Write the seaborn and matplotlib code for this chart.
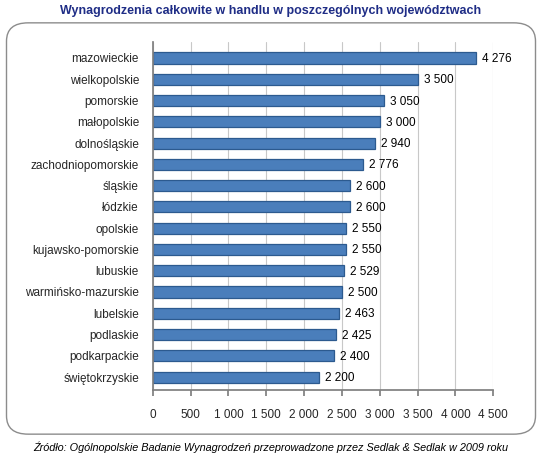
import matplotlib

matplotlib.use("Agg")

import matplotlib.pyplot as plt
import seaborn as sns
import pandas as pd
from matplotlib.patches import FancyBboxPatch
from matplotlib.ticker import FuncFormatter, MultipleLocator

# data
regions = [
    "mazowieckie", "wielkopolskie", "pomorskie", "małopolskie", "dolnośląskie",
    "zachodniopomorskie", "śląskie", "łódzkie", "opolskie", "kujawsko-pomorskie",
    "lubuskie", "warmińsko-mazurskie", "lubelskie", "podlaskie", "podkarpackie",
    "świętokrzyskie",
]
salaries = [4276, 3500, 3050, 3000, 2940, 2776, 2600, 2600, 2550, 2550,
            2529, 2500, 2463, 2425, 2400, 2200]

title = "Wynagrodzenia całkowite w handlu w poszczególnych województwach"
source = "Źródło: Ogólnopolskie Badanie Wynagrodzeń przeprowadzone przez Sedlak & Sedlak w 2009 roku"

df = pd.DataFrame({"region": regions, "salary": salaries})

sns.set_theme(style="white")
plt.rcParams["font.family"] = ["Liberation Sans", "DejaVu Sans"]


def spaced(v, pos=None):
    return f"{int(round(v)):,}".replace(",", " ")


fig = plt.figure(figsize=(5.42, 4.57), dpi=100)
ax = fig.add_axes([0.282, 0.147, 0.628, 0.761])

sns.barplot(data=df, x="salary", y="region", orient="h", color="#4A7EBB",
            saturation=1, width=0.52, edgecolor="#2C5A8F", linewidth=0.9, ax=ax)

for i, v in enumerate(salaries):
    ax.text(v + 80, i + 0.05, spaced(v), va="center", ha="left", fontsize=8.5, color="black")

ax.set_xlim(0, 4500)
ax.set_ylim(len(regions) - 0.4, -0.75)
ax.xaxis.set_major_locator(MultipleLocator(500))
ax.xaxis.set_major_formatter(FuncFormatter(spaced))
ax.grid(axis="x", color="#C8C8C8", linewidth=0.8)
ax.set_axisbelow(True)
ax.set_xlabel("")
ax.set_ylabel("")
for side in ["top", "right"]:
    ax.spines[side].set_visible(False)
ax.spines["left"].set_color("#808080")
ax.spines["bottom"].set_color("#808080")
ax.tick_params(axis="x", labelsize=8.5, length=4, color="#808080", pad=10, bottom=True)
ax.tick_params(axis="y", labelsize=8.5, length=0, pad=10)

# rounded frame around the chart
frame = FancyBboxPatch((0.012, 0.05), 0.976, 0.9, boxstyle="round,pad=0,rounding_size=0.04",
                       transform=fig.transFigure, facecolor="none", edgecolor="#8C8C8C",
                       linewidth=1.0)
fig.patches.append(frame)

fig.text(0.5, 0.977, title, ha="center", va="center", fontsize=9, fontweight="bold",
         color="#1F2D86")
fig.text(0.5, 0.022, source, ha="center", va="center", fontsize=7.8, style="italic",
         color="black")

plt.savefig("out.png", dpi=100)
plt.close()
